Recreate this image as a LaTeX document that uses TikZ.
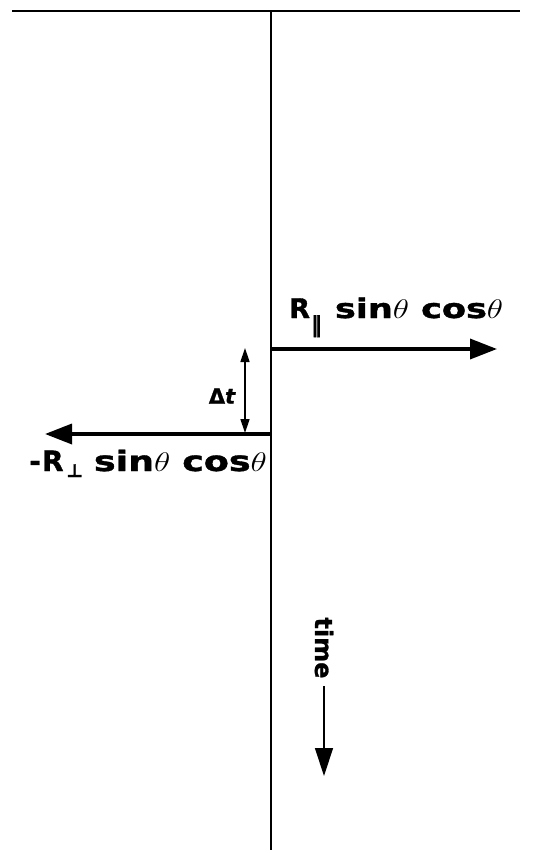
\documentclass[tikz,border=0pt]{standalone}
\usepackage{fontspec}
\usetikzlibrary{arrows.meta}
\newfontfamily\lblfont[FakeBold=1.2]{DejaVu Sans Bold}
\newfontfamily\lblitfont[FakeBold=1.2]{DejaVu Sans Bold Oblique}
% wide heavy lowercase words and a wide italic theta
\newcommand{\wideword}[1]{\scalebox{1.3}[1]{#1}}
\newcommand{\angth}{\scalebox{1.35}[1.08]{$\theta$}}
\newcommand{\subpar}{\raisebox{-14pt}{\fontsize{22}{22}\selectfont ‖}}
\newcommand{\subperp}{\raisebox{-6pt}{\fontsize{18}{18}\selectfont ⊥}}
\begin{document}
\begin{tikzpicture}[x=1pt,y=-1pt,
  bigarrow/.style={line width=3.5pt,-{Triangle[length=27pt,width=20pt]}},
  lbl/.style={font=\lblfont\fontsize{27}{32}\selectfont,inner sep=0pt},
  lblbig/.style={font=\lblfont\fontsize{28}{32}\selectfont,inner sep=0pt},
  axis/.style={line width=1.6pt}]
\useasboundingbox (0,0) rectangle (534,853);
% surface and time axis
\coordinate (tl) at (12,11);
\coordinate (tr) at (520,11);
\coordinate (top) at (271,11);
\coordinate (bot) at (271,850);
\draw[axis] (tl) -- (tr);
\draw[axis] (top) -- (bot);
% reflected pulses
\coordinate (p1) at (271,349);
\coordinate (p1e) at (497,349);
\coordinate (p2) at (271,434);
\coordinate (p2e) at (45,434);
\draw[bigarrow] (p1) -- (p1e);
\draw[bigarrow] (p2) -- (p2e);
\node[lbl,anchor=base west] (l1) at (289,318)
  {R\hspace{1pt}\subpar\hspace{13pt}\wideword{sin}\angth\hspace{12pt}\wideword{cos}\angth};
\node[lblbig,anchor=base east] (l2) at (267,471)
  {-\hspace{1pt}R\hspace{3pt}\subperp\hspace{11pt}\wideword{sin}\angth\hspace{12pt}\wideword{cos}\angth};
% delay between pulses
\coordinate (d1) at (245,348);
\coordinate (d2) at (245,433);
\draw[line width=1.4pt,{Triangle[length=14pt,width=9pt]}-{Triangle[length=14pt,width=9pt]}] (d1) -- (d2);
\node[font=\lblfont\fontsize{21}{24}\selectfont,inner sep=0pt] (dt) at (222,396) {Δ{\lblitfont t}};
% time direction
\node[font=\lblfont\fontsize{24}{28}\selectfont,inner sep=0pt,rotate=-90] (time) at (324,648) {time};
\coordinate (t1) at (324,686);
\coordinate (t2) at (324,776);
\draw[line width=1.3pt,-{Triangle[length=28pt,width=18pt]}] (t1) -- (t2);
\end{tikzpicture}
\end{document}
